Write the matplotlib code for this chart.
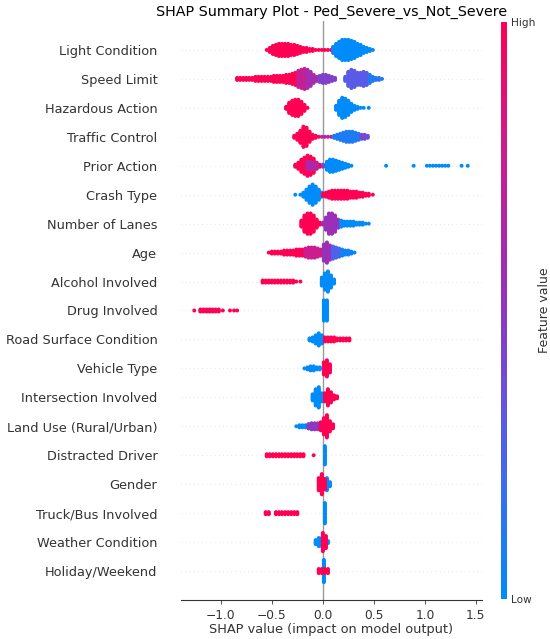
import numpy as np
import matplotlib
matplotlib.use("Agg")
import matplotlib.pyplot as plt
from matplotlib.colors import LinearSegmentedColormap, Normalize
from matplotlib.cm import ScalarMappable

# feature names, top to bottom
features = [
    "Light Condition", "Speed Limit", "Hazardous Action", "Traffic Control",
    "Prior Action", "Crash Type", "Number of Lanes", "Age",
    "Alcohol Involved", "Drug Involved", "Road Surface Condition",
    "Vehicle Type", "Intersection Involved", "Land Use (Rural/Urban)",
    "Distracted Driver", "Gender", "Truck/Bus Involved",
    "Weather Condition", "Holiday/Weekend",
]

# swarm: (first SHAP bin, feature value 0..1, dots per 0.03 bin)
BIN = 0.03
light_condition = [
    (-0.55, 1.0, [1, 5, 9, 11, 13, 13, 13, 13, 11, 11, 9, 7, 5, 5, 3, 3, 1, 1, 1, 1, 1, 1]),
    (0.10, 0.0, [7, 13, 17, 21, 21, 21, 19, 17, 13, 11, 7, 5, 3, 1]),
]
speed_limit = [
    (-0.84, 1.0, [3, 3, 3, 3, 3, 3, 5, 5, 5, 5, 5, 5, 7, 7, 7, 7, 9, 9, 11, 13]),
    (-0.24, 0.75, [17, 19, 21]),
    (-0.15, 0.6, [19, 15, 9, 5]),
    (-0.03, 0.45, [7, 9, 9, 7, 5, 3]),
    (0.22, 0.3, [5, 15, 19, 17, 13, 13, 15, 13]),
    (0.46, 0.12, [9, 5, 3, 3, 1]),
]
hazardous_action = [
    (-0.36, 1.0, [3, 11, 15, 17, 17, 13, 7, 1]),
    (0.13, 0.0, [5, 15, 21, 19, 15, 9, 5, 3, 1, 1]),
    (0.45, 0.0, [1]),
]
traffic_control = [
    (-0.28, 1.0, [3, 7, 13, 21, 19, 11, 5, 3, 1]),
    (-0.01, 0.7, [1, 1, 1, 1]),
    (0.11, 0.1, [3, 5, 7, 9, 11, 11, 11, 9, 7]),
    (0.38, 0.4, [5, 5, 3]),
]
prior_action = [
    (-0.27, 1.0, [3, 7, 13, 17, 21, 19, 15, 7, 3]),
    (-0.15, 0.65, [9, 9, 7, 5]),
    (0.00, 0.45, [3, 3]),
    (0.04, 0.0, [9, 13, 13, 11, 9, 7, 5, 3, 1]),
    (0.62, 0.0, [1]),
    (0.89, 0.0, [1]),
    (1.02, 0.0, [1, 1, 1, 1, 1, 1, 1, 1]),
    (1.36, 0.0, [1]),
    (1.42, 0.0, [1]),
]
crash_type = [
    (-0.27, 0.0, [1]),
    (-0.22, 0.0, [1]),
    (-0.19, 0.0, [5, 11, 17, 21, 17, 11, 5]),
    (0.00, 1.0, [3, 5, 7, 9, 9, 9, 9, 9, 9, 7, 7, 7, 5, 5, 3, 3]),
    (0.49, 1.0, [1]),
]
number_of_lanes = [
    (-0.21, 1.0, [7, 17, 21, 21, 17, 9, 3]),
    (0.00, 0.6, [3]),
    (0.03, 0.55, [13, 21, 21, 17, 9]),
    (0.18, 0.0, [7, 5, 5, 5, 5, 3, 3, 3, 1, 1]),
]
age = [
    (-0.53, 1.0, [1, 3, 3, 3, 3, 5, 5, 5, 5, 7, 7, 7]),
    (-0.17, 0.78, [9, 11, 11, 11, 9, 7]),
    (0.01, 0.55, [17, 21, 15]),
    (0.10, 0.25, [13, 11, 9]),
    (0.19, 0.05, [7, 5, 5, 3, 1]),
]
alcohol_involved = [
    (-0.59, 1.0, [3, 3, 3, 3, 3, 3, 3, 3, 3, 3, 3]),
    (-0.26, 1.0, [1]),
    (-0.22, 1.0, [1]),
    (-0.01, 0.0, [9, 17, 21, 13, 5]),
]
drug_involved = [
    (-1.26, 1.0, [1]),
    (-1.20, 1.0, [3, 3, 3, 3, 3, 3, 3]),
    (-0.98, 1.0, [1]),
    (-0.91, 1.0, [1]),
    (-0.87, 1.0, [1, 1]),
    (0.01, 0.0, [21, 21]),
]
road_surface = [
    (-0.13, 0.0, [3, 5, 9, 13, 9]),
    (0.02, 1.0, [5, 5, 5, 5, 3, 3, 3, 3, 3]),
]
vehicle_type = [
    (-0.18, 0.0, [1, 3, 5, 5, 3, 3]),
    (0.01, 1.0, [13, 17, 9]),
]
intersection = [
    (-0.10, 0.0, [7, 17, 21, 9]),
    (0.02, 1.0, [9, 17, 11, 5, 3]),
]
land_use = [
    (-0.26, 0.0, [1, 3, 3, 3, 5, 5]),
    (-0.14, 0.5, [5, 7, 7, 7, 7]),
    (-0.02, 1.0, [9, 17, 23, 11, 5]),
]
distracted = [
    (-0.55, 1.0, [3, 3, 3, 3, 3, 3, 3, 3, 3, 3, 3, 3, 3]),
    (-0.09, 1.0, [1]),
    (0.02, 0.0, [19]),
]
gender = [
    (0.01, 0.0, [11, 13, 5]),
    (-0.04, 1.0, [13, 21, 11]),
]
truck_bus = [
    (-0.56, 1.0, [3, 3]),
    (-0.46, 1.0, [3, 3, 3, 3, 3, 3, 3, 3]),
    (0.02, 0.0, [21]),
]
weather = [
    (-0.07, 0.0, [5, 9, 9, 7, 3]),
    (0.00, 1.0, [19, 13]),
]
holiday = [
    (0.01, 0.0, [23]),
    (-0.04, 1.0, [5, 5, 5, 5]),
]

swarms = [
    light_condition, speed_limit, hazardous_action, traffic_control,
    prior_action, crash_type, number_of_lanes, age, alcohol_involved,
    drug_involved, road_surface, vehicle_type, intersection, land_use,
    distracted, gender, truck_bus, weather, holiday,
]

red_blue = LinearSegmentedColormap.from_list("red_blue", [
    (0.0, "#008bfb"), (0.3, "#5a5be6"), (0.55, "#9a2fb8"),
    (0.8, "#d01a8a"), (1.0, "#ff0052"),
])

DY = 0.035  # vertical stacking step, in row units
axis_color = "#333333"

fig = plt.figure(figsize=(5.5, 6.39), dpi=100)
ax = fig.add_axes([181 / 550, 1 - 600 / 639, 301 / 550, 579 / 639])

n_feat = len(features)
xs, ys, cs = [], [], []
for i, groups in enumerate(swarms):
    row = n_feat - 1 - i
    for start, val, counts in groups:
        for k, n in enumerate(counts):
            off = (np.arange(n) - (n - 1) / 2) * DY
            xs.extend([start + k * BIN] * n)
            ys.extend(row + off)
            cs.extend([val] * n)
    ax.axhline(y=row, color="#cccccc", lw=0.5, dashes=(1, 5), zorder=-1)

ax.axvline(x=0, color="#999999", lw=1, zorder=-1)
ax.scatter(xs, ys, c=cs, cmap=red_blue, vmin=0, vmax=1, s=8,
           linewidths=0, alpha=1, rasterized=True, zorder=3)

ax.set_yticks(range(n_feat))
ax.set_yticklabels(features[::-1], fontsize=9.3)
ax.set_ylim(-1, n_feat)
ax.set_xlim(-1.39, 1.56)
ax.set_xticks([-1.0, -0.5, 0.0, 0.5, 1.0, 1.5])
ax.tick_params(axis="y", length=0, pad=17, labelcolor=axis_color)
ax.tick_params(axis="x", labelsize=8.8, length=3, width=0.6,
               color=axis_color, labelcolor=axis_color)
for side in ["top", "right", "left"]:
    ax.spines[side].set_visible(False)
ax.spines["bottom"].set_color(axis_color)
ax.set_xlabel("SHAP value (impact on model output)", fontsize=9.3,
              color=axis_color, labelpad=1)
ax.set_title("SHAP Summary Plot - Ped_Severe_vs_Not_Severe", fontsize=10.3, pad=4)

cax = fig.add_axes([501 / 550, 1 - 599 / 639, 6 / 550, 577 / 639])
cb = fig.colorbar(ScalarMappable(norm=Normalize(0, 1), cmap=red_blue),
                  cax=cax, ticks=[0, 1])
cb.set_ticklabels(["Low", "High"])
cb.outline.set_visible(False)
cb.ax.tick_params(labelsize=7.6, length=0, pad=3, labelcolor=axis_color)
cb.set_label("Feature value", size=9, labelpad=2, color=axis_color)

fig.savefig("out.png", dpi=100)
